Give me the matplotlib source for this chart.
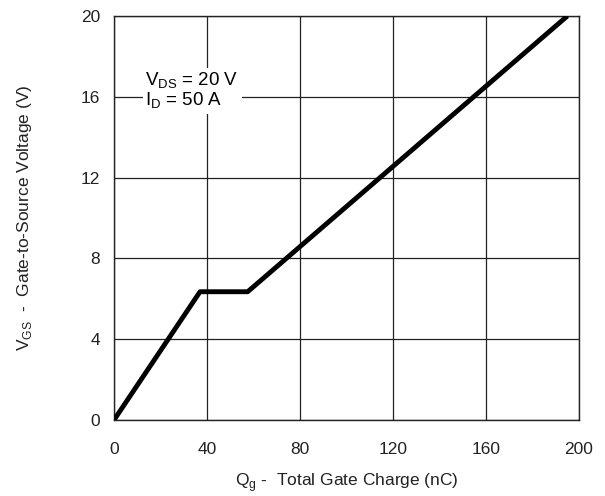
import matplotlib
matplotlib.use("Agg")
import matplotlib.pyplot as plt

plt.rcParams["font.family"] = ["Liberation Sans", "DejaVu Sans"]
plt.rcParams["mathtext.fontset"] = "custom"
plt.rcParams["mathtext.rm"] = "Liberation Sans"

# Gate charge curve
qg = [0, 37, 57.5, 195]
vgs = [0, 6.35, 6.35, 20]
xticks = [0, 40, 80, 120, 160, 200]
yticks = [0, 4, 8, 12, 16, 20]

fig = plt.figure(figsize=(6.05, 4.96), dpi=100)
ax = fig.add_axes([114 / 605, 76 / 496, 465 / 605, 404 / 496])

ax.plot(qg, vgs, color="black", lw=3.5, solid_capstyle="butt", zorder=3)
ax.set_xlim(0, 200)
ax.set_ylim(0, 20)
ax.set_xticks(xticks)
ax.set_yticks(yticks)
ax.tick_params(length=0, labelsize=12.5, colors="#222222")
ax.tick_params(axis="x", pad=16)
ax.tick_params(axis="y", pad=10)
ax.grid(True, color="#222222", lw=0.9)
for s in ax.spines.values():
    s.set_color("#222222")
    s.set_linewidth(1.0)

ax.text(13.5, 16.3, "V$_{\\mathregular{DS}}$ = 20 V\nI$_{\\mathregular{D}}$ = 50 A", fontsize=13.5,
        va="center", ha="left", linespacing=1.0,
        bbox=dict(facecolor="white", edgecolor="none", pad=2), zorder=4)

ax.set_xlabel("Q$_{\\mathregular{g}}$ -  Total Gate Charge (nC)", fontsize=12.5, labelpad=10,
              color="#222222")
ax.set_ylabel("V$_{\\mathregular{GS}}$  -  Gate-to-Source Voltage (V)", fontsize=12.5, labelpad=34,
              color="#222222")

fig.savefig("out.png", dpi=100)
